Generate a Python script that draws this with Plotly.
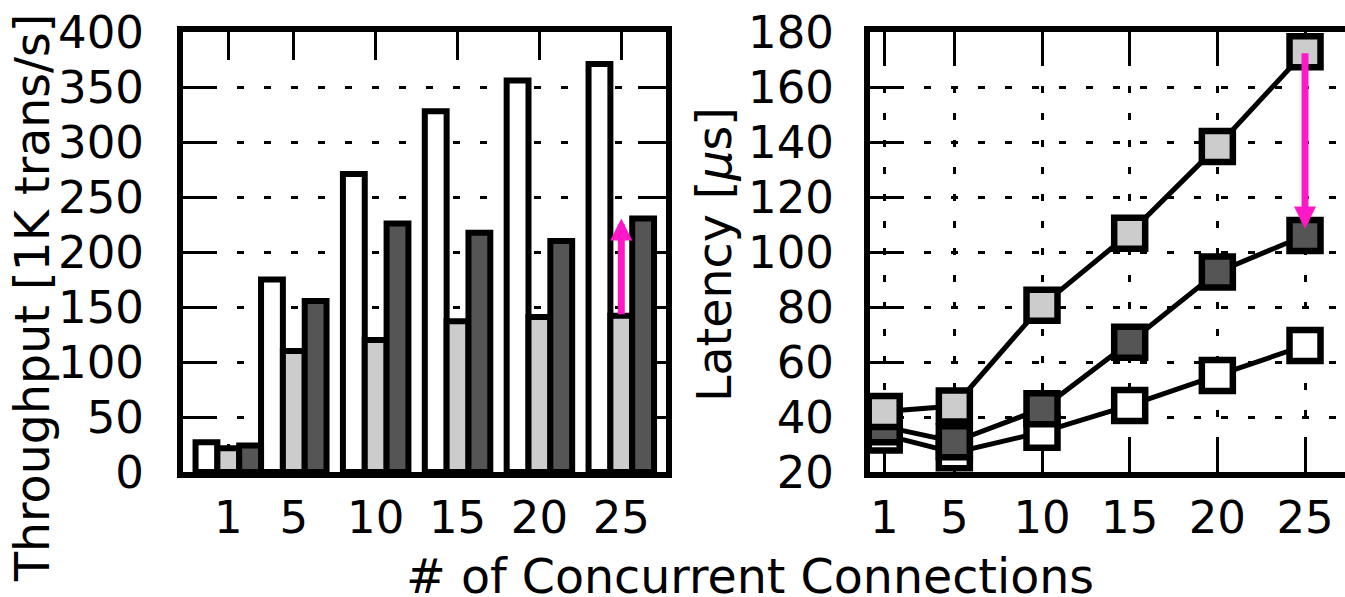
import plotly.graph_objects as go

# ---- data ----
conns = [1, 5, 10, 15, 20, 25]
tp_white = [27, 175, 271, 328, 356, 371]
tp_gray = [21.5, 110, 120, 137, 141, 142]
tp_dark = [24, 155.5, 226, 217.5, 210, 230.5]

lat_white = [33.5, 27, 34.5, 44.2, 55.1, 66]
lat_dark = [36.5, 31, 43, 67.2, 92.7, 106]
lat_gray = [42, 44, 80.6, 106.8, 138.4, 172.8]

tp_ticks = [0, 50, 100, 150, 200, 250, 300, 350, 400]
lat_ticks = [20, 40, 60, 80, 100, 120, 140, 160, 180]

W, H = 1345, 597
FONT = "DejaVu Sans"
FS = 45
FS_TITLE = 47.5
GRAY = "#cccccc"
DARK = "#555555"
MAGENTA = "#ff18c8"

fig = go.Figure()

bw = 4 / 3
for vals, col, off in [(tp_white, "white", -2), (tp_gray, GRAY, -2 / 3), (tp_dark, DARK, 2 / 3)]:
    fig.add_trace(go.Bar(x=conns, y=vals, width=bw, offset=off,
                         marker=dict(color=col, line=dict(color="black", width=6)),
                         xaxis="x", yaxis="y", showlegend=False, hoverinfo="skip"))

for vals, col in [(lat_white, "white"), (lat_dark, DARK), (lat_gray, GRAY)]:
    fig.add_trace(go.Scatter(x=conns, y=vals, mode="lines+markers",
                             line=dict(color="black", width=5),
                             marker=dict(symbol="square", size=31, color=col,
                                         line=dict(color="black", width=6.5)),
                             xaxis="x2", yaxis="y2", showlegend=False, hoverinfo="skip"))

def px_x(p):
    return p / W

def px_y(p):
    return 1 - p / H

ydom = [px_y(472), px_y(32)]
common = dict(showline=True, linecolor="black", linewidth=6, ticks="inside",
              ticklen=28, tickwidth=3, tickcolor="black", layer="below traces",
              tickfont=dict(family=FONT, size=FS, color="black"), automargin=False,
              zeroline=False)
grid = dict(showgrid=True, gridcolor="black", gridwidth=3, griddash="7px,20px")

fig.update_layout(
    width=W, height=H, margin=dict(l=0, r=0, t=0, b=0),
    paper_bgcolor="white", plot_bgcolor="white", barmode="overlay",
    showlegend=False,
    xaxis=dict(domain=[px_x(183), px_x(666)], range=[-1.766, 27.73],
               tickvals=conns, mirror="allticks", showgrid=False,
               ticklabelstandoff=1, anchor="y", **common),
    yaxis=dict(domain=ydom, range=[0, 400], tickvals=tp_ticks,
               mirror="allticks", ticklabelstandoff=24, anchor="x", **common, **grid),
    xaxis2=dict(domain=[px_x(870), 1], range=[0.19, 27.28], tickvals=conns,
                mirror="allticks", ticklabelstandoff=1, anchor="y2", **common, **grid),
    yaxis2=dict(domain=ydom, range=[20, 180], tickvals=lat_ticks, mirror=False,
                ticklabelstandoff=21, anchor="x2", **common, **grid),
)

ann = [
    dict(text="Throughput [1K trans/s]", x=px_x(32), y=px_y(298), textangle=-90),
    dict(text="Latency [<i>μ</i>s]", x=px_x(715), y=px_y(255), textangle=-90),
    dict(text="# of Concurrent Connections", x=px_x(750), y=px_y(576), textangle=0),
]
for a in ann:
    fig.add_annotation(xref="paper", yref="paper", showarrow=False,
                       xanchor="center", yanchor="middle",
                       font=dict(family=FONT, size=FS_TITLE, color="black"), **a)

fig.add_annotation(xref="x", yref="y", axref="x", ayref="y",
                   x=conns[-1], y=tp_dark[-1], ax=conns[-1], ay=tp_gray[-1],
                   text="", showarrow=True, arrowhead=2, arrowwidth=7,
                   arrowsize=0.63, arrowcolor=MAGENTA)
fig.add_annotation(xref="x2", yref="y2", axref="x2", ayref="y2",
                   x=conns[-1], y=lat_dark[-1] + 2.5, ax=conns[-1], ay=lat_gray[-1],
                   text="", showarrow=True, arrowhead=2, arrowwidth=7,
                   arrowsize=0.63, arrowcolor=MAGENTA)

fig.write_html("out.html", config={"displayModeBar": False},
               post_script="document.body.style.margin='0';document.body.style.overflow='hidden';")
